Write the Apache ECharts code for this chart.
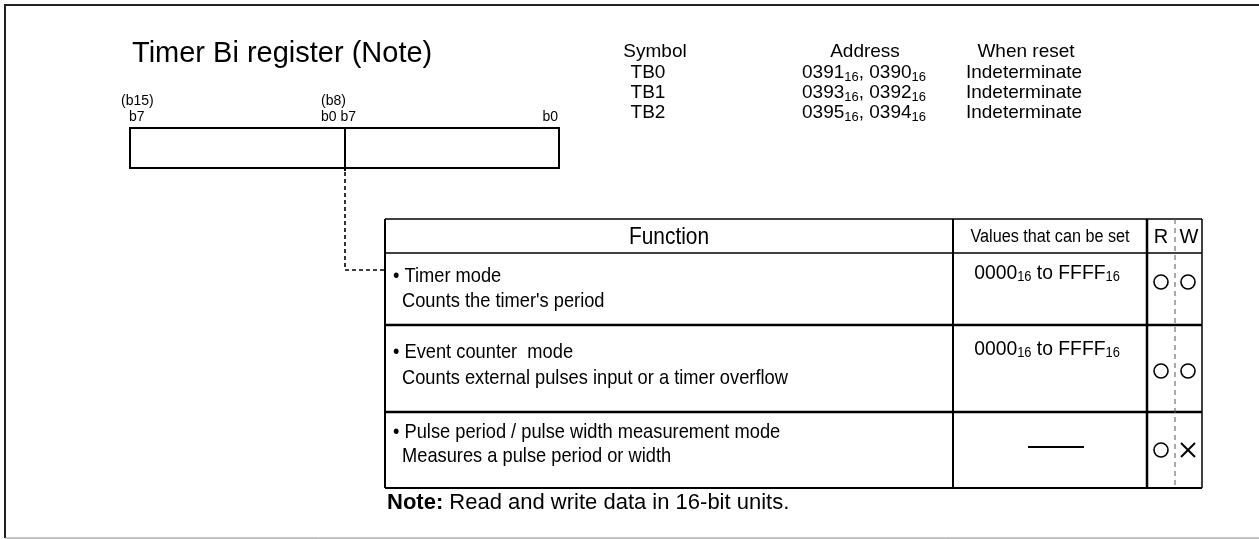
<!DOCTYPE html>
<html><head><meta charset="utf-8">
<script src="https://cdn.jsdelivr.net/npm/echarts@6/dist/echarts.min.js"></script>
<style>html,body{margin:0;padding:0;background:#fff}#c{width:1259px;height:539px}</style>
</head><body><div id="c"></div>
<script>
// ---------- data ----------
const titleText = 'Timer Bi register (Note)';
const bitLabelsTop = ['(b15)', '(b8)'];
const bitLabelsBottom = ['b7', 'b0 b7', 'b0'];
const symbolHeader = ['Symbol', 'Address', 'When reset'];
const symbols = ['TB0', 'TB1', 'TB2'];
const addressHigh = ['0391', '0393', '0395'];
const addressLow = ['0390', '0392', '0394'];
const resetValues = ['Indeterminate', 'Indeterminate', 'Indeterminate'];
const tableHeader = ['Function', 'Values that can be set', 'R', 'W'];
const modeNames = ['Timer mode', 'Event counter  mode', 'Pulse period / pulse width measurement mode'];
const modeDescs = ["Counts the timer's period", 'Counts external pulses input or a timer overflow', 'Measures a pulse period or width'];
const valueFrom = ['0000', '0000', null];
const valueTo = ['FFFF', 'FFFF', null];
const readable = [true, true, true];
const writable = [true, true, false];
const noteLabel = 'Note:';
const noteText = ' Read and write data in 16-bit units.';

// ---------- layout ----------
const FONT = "'Liberation Sans', Arial, Helvetica, sans-serif";
const INK = '#000';
const els = [];
function txt(x, y, text, o) {
  o = o || {};
  els.push({
    type: 'text', x: x, y: y, scaleX: o.sx || 1, z: 10,
    style: {
      text: text, fill: INK, fontFamily: FONT, fontSize: o.size || 16,
      fontWeight: o.weight || 'normal',
      align: o.align || 'left', verticalAlign: 'middle', rich: o.rich
    }
  });
}
function line(x1, y1, x2, y2, w, o) {
  o = o || {};
  els.push({
    type: 'line', z: 5, shape: { x1: x1, y1: y1, x2: x2, y2: y2 },
    style: { stroke: o.color || INK, lineWidth: w, lineDash: o.dash || null }
  });
}
const sub = (size) => ({
  n: { fontSize: size, fontFamily: FONT, fill: INK, verticalAlign: 'bottom', lineHeight: size },
  s: { fontSize: Math.round(size * 0.66), fontFamily: FONT, fill: INK, verticalAlign: 'bottom', lineHeight: Math.round(size * 0.66), padding: [0, 0, -1, 0] }
});

// outer frame
line(5, 5, 5, 538, 2, { color: '#222' });
line(4, 5, 1259, 5, 2, { color: '#222' });
line(5, 538, 1259, 538, 1, { color: '#888' });

// title + register box
txt(132, 54, titleText, { size: 29 });
txt(121, 101, bitLabelsTop[0], { size: 14 });
txt(321, 101, bitLabelsTop[1], { size: 14 });
txt(129, 117, bitLabelsBottom[0], { size: 14 });
txt(321, 117, bitLabelsBottom[1], { size: 14 });
txt(558, 117, bitLabelsBottom[2], { size: 14, align: 'right' });
els.push({ type: 'rect', z: 5, shape: { x: 130, y: 128, width: 429, height: 40 }, style: { fill: 'none', stroke: INK, lineWidth: 2 } });
line(345, 128, 345, 171, 2);
els.push({ type: 'polyline', z: 5, shape: { points: [[345, 172], [345, 270], [385, 270]] },
  style: { fill: 'none', stroke: INK, lineWidth: 1.6, lineDash: [4, 3] } });

// symbol / address table
const symX = [655, 865, 1026];
symbolHeader.forEach((h, i) => txt(symX[i], 52, h, { size: 19, align: 'center' }));
symbols.forEach((s, i) => {
  const y = 73 + i * 20;
  txt(648, y, s, { size: 19, align: 'center' });
  txt(864, y, '{n|' + addressHigh[i] + '}{s|16}{n|, ' + addressLow[i] + '}{s|16}', { align: 'center', rich: sub(19) });
  txt(1024, y, resetValues[i], { size: 19, align: 'center' });
});

// function table
const TL = 385, TR = 1202, TT = 219, TB = 488;
const colV = 953, colR = 1147, colW = 1175;
const rowTop = [253, 325, 412];
const rowName = [276, 352, 432];
const rowDesc = [301, 378, 456];
const rowMark = [282, 371, 450];
line(TL, TT, TR, TT, 1.5);
line(TL, TB, TR, TB, 2);
line(TL, TT, TL, TB, 2);
line(TR, TT, TR, TB, 1.5);
line(colV, TT, colV, TB, 2);
line(colR, TT, colR, TB, 2.5);
line(TL, rowTop[0], TR, rowTop[0], 1.5);
line(TL, rowTop[1], TR, rowTop[1], 2.5);
line(TL, rowTop[2], TR, rowTop[2], 2.5);
line(colW, TT, colW, TB, 1, { color: '#555', dash: [5, 4] });

const SX = 0.87;
txt(669, 237, tableHeader[0], { size: 24, align: 'center', sx: SX });
txt(1050, 237, tableHeader[1], { size: 18, align: 'center', sx: 0.9 });
txt(1161, 237, tableHeader[2], { size: 20, align: 'center' });
txt(1189, 237, tableHeader[3], { size: 20, align: 'center' });

modeNames.forEach((m, i) => {
  txt(393, rowName[i], '\u2022 ' + m, { size: 21, sx: SX });
  txt(402, rowDesc[i], modeDescs[i], { size: 21, sx: SX });
  if (valueFrom[i]) {
    txt(1047, rowName[i] - 3, '{n|' + valueFrom[i] + '}{s|16}{n| to ' + valueTo[i] + '}{s|16}', { align: 'center', sx: 0.92, rich: sub(21) });
  } else {
    line(1028, 447, 1084, 447, 2);
  }
  if (readable[i]) {
    els.push({ type: 'circle', z: 6, shape: { cx: 1161, cy: rowMark[i], r: 7 }, style: { fill: 'none', stroke: INK, lineWidth: 1.6 } });
  }
  const cy = rowMark[i];
  if (writable[i]) {
    els.push({ type: 'circle', z: 6, shape: { cx: 1188, cy: cy, r: 7 }, style: { fill: 'none', stroke: INK, lineWidth: 1.6 } });
  } else {
    line(1181, cy - 7, 1195, cy + 7, 2);
    line(1195, cy - 7, 1181, cy + 7, 2);
  }
});

// note
txt(387, 503, '{b|' + noteLabel + '}{r|' + noteText + '}', {
  rich: {
    b: { fontSize: 22, fontWeight: 'bold', fontFamily: FONT, fill: INK },
    r: { fontSize: 22, fontFamily: FONT, fill: INK }
  }
});

const chart = echarts.init(document.getElementById('c'), null, { renderer: 'canvas' });
chart.setOption({ animation: false, backgroundColor: '#fff', graphic: { elements: els } });
</script>
</body></html>
